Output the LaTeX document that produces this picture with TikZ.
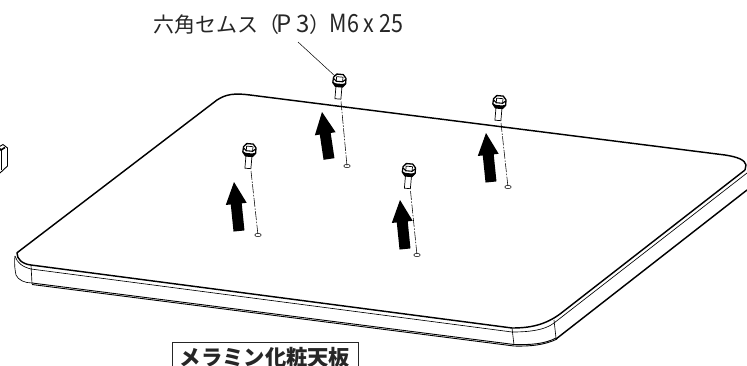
\documentclass[tikz,border=0pt]{standalone}
\usepackage{fontspec}
\usepackage{graphicx}
\usetikzlibrary{calc}
\newfontfamily\cjk{Noto Sans CJK JP}
\newcommand{\boltat}[3]{% name, x, y (head centre)
 \begin{scope}[shift={(#2,#3)},rotate=-5]
  \coordinate (#1) at (0,0);
  \draw[line width=.7pt,fill=white] (-3,6) -- (-3,18.5) -- (3,18.5) -- (3,6);
  \draw[line width=1.3pt,fill=white,line join=round] (-6.2,-2.8) -- (-3.2,-6.2) -- (3.2,-6.2) -- (6.2,-2.8) -- (6.5,2.5) -- (3.5,6.2) -- (-3.5,6.2) -- (-6.5,2.5) -- cycle;
  \draw[line width=1.1pt] (-6,-1.5) -- (-3.2,1) -- (3.2,1) -- (6,-1.5);
  \draw[line width=.7pt] (-3.2,-3.6) -- (3.2,-3.6) (-3.2,-3.6) -- (-3.2,1) (3.2,-3.6) -- (3.2,1);
  \fill[black] (-6.5,2) -- (-3.2,3.2) -- (3.2,3.2) -- (6.5,2) -- (6.5,3) -- (3.5,6.2) -- (-3.5,6.2) -- (-6.5,3) -- cycle;
 \end{scope}}
\newcommand{\holeat}[3]{\draw[line width=.5pt,fill=white] (#2,#3) ellipse (3.2 and 1.7); \coordinate (#1) at (#2,#3);}
\tikzset{
 mainline/.style={line width=1.45pt,line join=round},
 thinline/.style={line width=.65pt},
 centerline/.style={line width=.55pt,dash pattern=on 9pt off 1.5pt on 1.5pt off 1.5pt}
}
\newcommand{\arrowfromto}[4]{%
 \coordinate (atip) at (#1,#2);
 \coordinate (abase) at (#3,#4);
 \fill[black] (atip)
  -- ($(atip)!22pt!(abase)!10.5pt!90:(abase)$)
  -- ($(atip)!22pt!(abase)!5.5pt!90:(abase)$)
  -- ($(abase)!5.5pt!-90:(atip)$)
  -- ($(abase)!5.5pt!90:(atip)$)
  -- ($(atip)!22pt!(abase)!5.5pt!-90:(abase)$)
  -- ($(atip)!22pt!(abase)!10.5pt!-90:(abase)$)
  -- cycle;}
\begin{document}
\begin{tikzpicture}[x=1pt,y=-1pt]
\useasboundingbox (0,0) rectangle (747,365);
\clip (0,0) rectangle (747,365);
% table top
\draw[mainline] (745,170) -- (560,314) .. controls (545,325) and (530,328) .. (512,328) -- (31,265) .. controls (22,264) and (17,259) .. (17,253) -- (18,252) -- (217,100) .. controls (226,94) and (235,93) .. (250,95) -- (725,155) .. controls (738,157) and (745,160) .. (746,165) -- (745,170);
\draw[thinline] (31,269) -- (512,332) .. controls (530,332) and (545,330) .. (554,323) -- (747,173);
\draw[thinline] (15,256) .. controls (17,263) and (23,267) .. (31,269);
\draw[thinline] (15,256) .. controls (14,264) and (15,270) .. (16,275) .. controls (18,280) and (25,283) .. (32,283);
\draw[line width=.9pt] (32,283) -- (514,344.5) .. controls (530,345) and (545,344) .. (556,338);
\draw[line width=.9pt] (32,284.5) -- (514,346) .. controls (530,346.5) and (545,345) .. (557,339);
\draw[mainline] (556,339) -- (747,190);
\draw[thinline] (31,265) -- (32,283.5);
\draw[thinline] (512,328) -- (514,345);
\draw[thinline] (554,320) -- (556,338);
% centre lines
\holeat{h1}{347}{166} \holeat{h2}{258}{235} \holeat{h3}{417}{255} \holeat{h4}{508}{187}
\boltat{b1}{339.5}{80.5} \boltat{b2}{249.5}{150} \boltat{b3}{409}{170} \boltat{b4}{499.5}{102}
\draw[centerline] ($(b1)+(1.5,21)$) -- (h1);
\draw[centerline] ($(b2)+(1.5,21)$) -- (h2);
\draw[centerline] ($(b3)+(1.5,21)$) -- (h3);
\draw[centerline] ($(b4)+(1.5,21)$) -- (h4);
% arrows
\arrowfromto{322}{112}{329}{159}
\arrowfromto{234}{182}{239}{231}
\arrowfromto{486}{133}{491}{182}
\arrowfromto{400}{200}{405}{249}
% label
\node[anchor=base west,inner sep=0pt,text=black!85] (lab) at (153,32) {\cjk\fontsize{21}{21}\selectfont 六角セムス（\kern-3pt{\fontsize{24}{24}\selectfont P\kern5pt 3}）\kern-1pt{\fontsize{25}{25}\selectfont\scalebox{.86}[1]{M6 x 25}}};
\coordinate (lead) at (335,76);
\draw[line width=.5pt] (298,42) -- (lead);
% box
\node[draw=black!85,line width=1.3pt,minimum width=186pt,minimum height=40pt,anchor=north west,inner sep=0pt] (plate) at (172,341.5) {};
\node[anchor=north,inner sep=0pt,text=black!85] (platet) at (265,347.5) {\cjk\bfseries\fontsize{21.3}{21.3}\selectfont メラミン化粧天板};
% block at the left edge
\draw[line width=.9pt,fill=white] (-3,148) -- (3,144.5) -- (7.5,148) -- (7.5,166) -- (0,173);
\draw[line width=1.6pt] (-2,147) -- (1,150) -- (5,147.5);
\draw[line width=.7pt] (1,150) -- (1,170);
\end{tikzpicture}
\end{document}
